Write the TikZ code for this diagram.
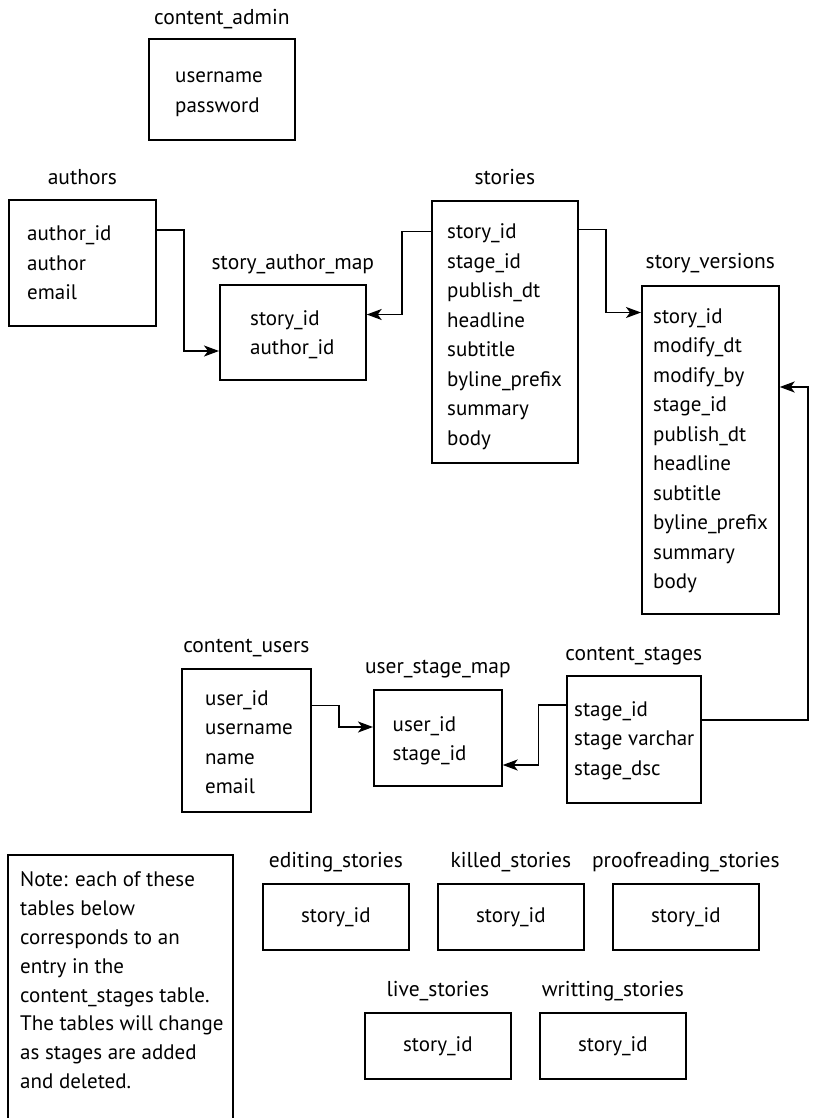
\documentclass[tikz,border=0pt]{standalone}
\usepackage{fontspec}
\setmainfont{PT Sans}
\usetikzlibrary{positioning,arrows.meta}

\tikzset{
  tblbox/.style={draw, line width=1.7pt, anchor=north west, inner sep=0pt},
  idbox/.style={tblbox, minimum width=146pt, minimum height=66pt, font=\fontsize{21}{24}\selectfont},
  fields/.style={anchor=north west, align=left, inner sep=0pt, font=\fontsize{21}{29.5}\selectfont},
  tbltitle/.style={inner sep=0pt, text depth=0pt, font=\fontsize{21.5}{24}\selectfont},
  link/.style={line width=1.7pt, -{Stealth[length=15pt,width=11pt,inset=4pt]}},
}

\begin{document}
\begin{tikzpicture}[x=1pt,y=-1pt]
\useasboundingbox (0,0) rectangle (825,1118);

% top tables
\node[tblbox, minimum width=146pt, minimum height=101pt] (admin) at (148,38) {};
\node[fields, below right=24pt and 27pt of admin.north west] (admin fields) {\strut username\\password};
\node[tbltitle, above=13pt of admin] (admin title) {content\_admin};

\node[tblbox, minimum width=147pt, minimum height=126pt] (authors) at (8,199) {};
\node[fields, below right=21pt and 19pt of authors.north west] (authors fields) {\strut author\_id\\author\\email};
\node[tbltitle, above=14pt of authors] (authors title) {authors};

\node[tblbox, minimum width=146pt, minimum height=95pt] (sam) at (219,284) {};
\node[fields, below right=20.5pt and 31pt of sam.north west] (sam fields) {\strut story\_id\\author\_id};
\node[tbltitle, above=14pt of sam] (sam title) {story\_author\_map};

\node[tblbox, minimum width=146pt, minimum height=262pt] (stories) at (431,200) {};
\node[fields, below right=18pt and 16pt of stories.north west] (stories fields) {\strut story\_id\\stage\_id\\publish\_dt\\headline\\subtitle\\byline\_prefix\\summary\\body};
\node[tbltitle, above=15pt of stories] (stories title) {stories};

\node[tblbox, minimum width=137pt, minimum height=328pt] (versions) at (641,285) {};
\node[fields, below right=17.5pt and 12pt of versions.north west] (versions fields) {\strut story\_id\\modify\_dt\\modify\_by\\stage\_id\\publish\_dt\\headline\\subtitle\\byline\_prefix\\summary\\body};
\node[tbltitle, above=16pt of versions] (versions title) {story\_versions};

% user tables
\node[tblbox, minimum width=129pt, minimum height=143pt] (users) at (181,668) {};
\node[fields, below right=16.5pt and 24pt of users.north west] (users fields) {\strut user\_id\\username\\name\\email};
\node[tbltitle, above=15pt of users] (users title) {content\_users};

\node[tblbox, minimum width=128pt, minimum height=96pt] (usm) at (373,689) {};
\node[fields, below right=21.5pt and 19.5pt of usm.north west] (usm fields) {\strut user\_id\\stage\_id};
\node[tbltitle, above=15pt of usm] (usm title) {user\_stage\_map};

\node[tblbox, minimum width=134pt, minimum height=127pt] (stages) at (566,675) {};
\node[fields, below right=20.5pt and 8pt of stages.north west] (stages fields) {\strut stage\_id\\stage varchar\\stage\_dsc};
\node[tbltitle, above=14pt of stages] (stages title) {content\_stages};

% links
\draw[link] ([yshift=-31pt]authors.north east) -- ++(27,0) |- ([yshift=-67pt]sam.north west);
\draw[link] ([yshift=-31.5pt]stories.north west) -- ++(-29,0) |- ([yshift=-30.5pt]sam.north east);
\draw[link] ([yshift=-29.5pt]stories.north east) -- ++(27,0) |- ([yshift=-27.5pt]versions.north west);
\draw[link] ([yshift=-37.5pt]users.north east) -- ++(27,0) |- ([yshift=-38pt]usm.north west);
\draw[link] ([yshift=-30pt]stages.north west) -- ++(-27.5,0) |- ([yshift=-76pt]usm.north east);
\draw[link] ([yshift=-45pt]stages.north east) -- ++(106,0) |- ([yshift=-102pt]versions.north east);

% note
\node[tblbox, minimum width=225pt, minimum height=280pt] (note) at (7,854) {};
\node[fields, font=\fontsize{21}{28.8}\selectfont, below right=12.5pt and 13pt of note.north west] (note text) {\strut Note: each of these\\tables below\\corresponds to an\\entry in the\\content\_stages table.\\The tables will change\\as stages are added\\and deleted.};

% stage tables
\node[idbox] (editing) at (262,883) {story\_id};
\node[tbltitle, above=15pt of editing] (editing title) {editing\_stories};
\node[idbox] (killed) at (437,883) {story\_id};
\node[tbltitle, above=15pt of killed] (killed title) {killed\_stories};
\node[idbox] (proof) at (612,883) {story\_id};
\node[tbltitle, above=15pt of proof] (proof title) {proofreading\_stories};
\node[idbox] (live) at (364,1012) {story\_id};
\node[tbltitle, above=15pt of live] (live title) {live\_stories};
\node[idbox] (writing) at (539,1012) {story\_id};
\node[tbltitle, above=15pt of writing] (writing title) {writting\_stories};
\end{tikzpicture}
\end{document}
